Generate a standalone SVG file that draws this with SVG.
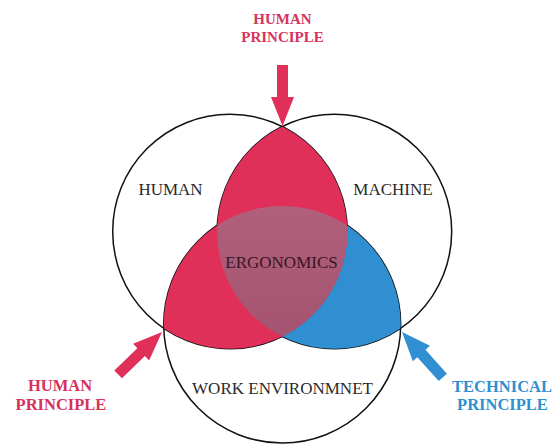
<svg xmlns="http://www.w3.org/2000/svg" width="555" height="445" viewBox="0 0 555 445">
<style>
.ring{fill:none;stroke:#111;stroke-width:1.5}
.lbl{font-family:"Liberation Serif","Times New Roman",serif;font-size:17px;fill:#2a2a2a;text-anchor:middle}
.pr{font-family:"Liberation Serif","Times New Roman",serif;font-weight:bold;text-anchor:middle}
.red{fill:#e0305a}
.blue{fill:#2f8fd0}
</style>
<defs>
<clipPath id="cH"><circle cx="230" cy="231.5" r="117.3"/></clipPath>
<clipPath id="cM"><circle cx="334.4" cy="231.5" r="117.3"/></clipPath>
<clipPath id="cW"><circle cx="282.2" cy="324.5" r="118.5"/></clipPath>
<linearGradient id="pg" x1="0" y1="0" x2="0" y2="1">
<stop offset="0" stop-color="#b0607a"/>
<stop offset="1" stop-color="#9a4a68"/>
</linearGradient>
<path id="arr" d="M0,0 L-29,-11.5 L-29,-5.5 L-61,-5.5 L-61,5.5 L-29,5.5 L-29,11.5 Z"/>
</defs>
<rect width="555" height="445" fill="#fff"/>
<g id="human"><circle class="ring" cx="230" cy="231.5" r="117.3"/></g>
<g id="machine"><circle class="ring" cx="334.4" cy="231.5" r="117.3"/></g>
<g id="work"><circle class="ring" cx="282.2" cy="324.5" r="118.5"/></g>
<g id="regions">
<circle class="blue" cx="282.2" cy="324.5" r="118.5" clip-path="url(#cM)"/>
<circle class="red" cx="282.2" cy="324.5" r="118.5" clip-path="url(#cH)"/>
<circle class="red" cx="334.4" cy="231.5" r="117.3" clip-path="url(#cH)"/>
<g clip-path="url(#cM)"><circle cx="282.2" cy="324.5" r="118.5" fill="url(#pg)" clip-path="url(#cH)"/></g>
</g>
<g id="labels">
<text class="lbl" x="170.5" y="195">HUMAN</text>
<text class="lbl" x="393" y="195">MACHINE</text>
<text class="lbl" x="282.5" y="394">WORK ENVIRONMNET</text>
<text class="lbl" x="281.5" y="268" style="fill:#3a1525">ERGONOMICS</text>
</g>
<g id="connectors">
<use href="#arr" class="red" transform="translate(282.5,126) rotate(90)"/>
<use href="#arr" class="red" transform="translate(162,332) rotate(-44)"/>
<use href="#arr" class="blue" transform="translate(402,332) rotate(-132)"/>
</g>
<g id="principle-top"><text class="pr" font-size="15" fill="#d6325e" x="282.5" y="24">HUMAN</text><text class="pr" font-size="15" fill="#d6325e" x="282.5" y="42">PRINCIPLE</text></g>
<g id="principle-left"><text class="pr" font-size="16.5" fill="#d6325e" x="60" y="391">HUMAN</text><text class="pr" font-size="16.5" fill="#d6325e" x="61" y="410">PRINCIPLE</text></g>
<g id="principle-right"><text class="pr" font-size="16.5" fill="#2f8fd0" x="502" y="392">TECHNICAL</text><text class="pr" font-size="16.5" fill="#2f8fd0" x="502.5" y="410">PRINCIPLE</text></g>
</svg>
